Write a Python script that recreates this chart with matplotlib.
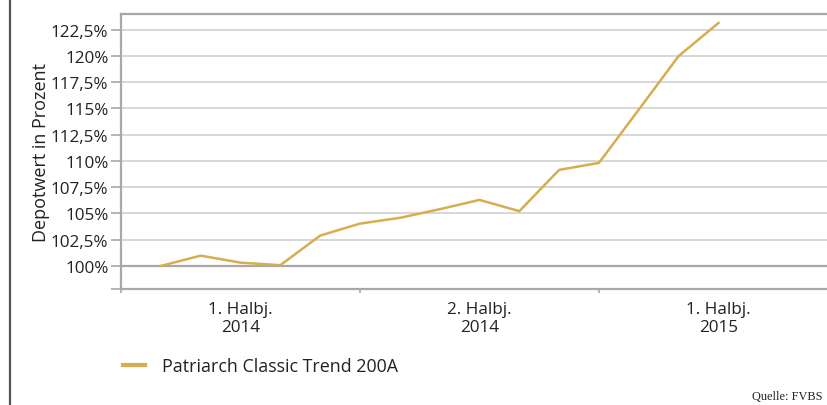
import numpy as np
import matplotlib
matplotlib.use("Agg")
import matplotlib.pyplot as plt
from matplotlib.lines import Line2D

# monthly depot value (end of month), in percent
months = [1, 2, 3, 4, 5, 6, 7, 8, 9, 10, 11, 12, 13, 14, 15]
depot = [100.0, 100.98, 100.31, 100.07, 102.89, 104.03, 104.58, 105.4,
         106.29, 105.22, 109.15, 109.82, 114.9, 120.0, 123.15]
series_name = "Patriarch Classic Trend 200A"

period_labels = ["1. Halbj.\n2014", "2. Halbj.\n2014", "1. Halbj.\n2015"]
period_bounds = [0, 6, 12, 18]
ytick_vals = [100, 102.5, 105, 107.5, 110, 112.5, 115, 117.5, 120, 122.5]

gold = "#d6ae50"
grid_c = "#d4d4d4"
axis_c = "#a8a8a8"
text_c = "#222222"

plt.rcParams["font.family"] = ["Open Sans", "DejaVu Sans"]

fig = plt.figure(figsize=(8.27, 4.06), dpi=100)
ax = fig.add_axes([121 / 827, 116 / 406, 717 / 827, 275.5 / 406])

ax.set_xlim(0, 18)
ax.set_ylim(97.8, 124.05)

# gridlines
for v in ytick_vals:
    if v == 100:
        ax.axhline(v, color=axis_c, lw=1.6, zorder=1)
    else:
        ax.axhline(v, color=grid_c, lw=1.3, zorder=1)

ax.plot(months, depot, color=gold, lw=1.8, zorder=3)

# y axis
ax.set_yticks(ytick_vals + [97.8])
ax.set_yticklabels([("%g%%" % v).replace(".", ",") for v in ytick_vals] + [""],
                   fontsize=12.3, color=text_c)
ax.tick_params(axis="y", length=7, width=1.2, color=axis_c, pad=2)
ax.set_ylabel("Depotwert in Prozent", fontsize=13, color=text_c, labelpad=1)

# x axis: ticks at half-year boundaries, labels in the middle
ax.set_xticks(period_bounds)
ax.set_xticklabels([])
ax.set_xticks([3, 9, 15], minor=True)
ax.set_xticklabels(period_labels, minor=True, fontsize=12.3, color=text_c,
                   linespacing=1.1)
ax.tick_params(axis="x", which="major", length=3, width=1.2, color=axis_c)
ax.tick_params(axis="x", which="minor", length=0, pad=9)

for s in ["left", "bottom", "top"]:
    ax.spines[s].set_color(axis_c)
    ax.spines[s].set_linewidth(1.6)
ax.spines["right"].set_visible(False)

# legend below the chart
handle = Line2D([], [], color=gold, lw=3)
fig.legend([handle], [series_name], loc="center left",
           bbox_to_anchor=(123 / 827, 1 - 367 / 406), frameon=False,
           fontsize=12.9, handlelength=1.2, handletextpad=1.0,
           borderpad=0, borderaxespad=0, labelcolor=text_c)

# frame line at the left edge
fig.add_artist(Line2D([10 / 827, 10 / 827], [0, 1], color="#555555", lw=1.6))

fig.text(822 / 827, 1 - 397 / 406, "Quelle: FVBS", ha="right", va="center",
         fontsize=8.8, family="Liberation Serif", color=text_c)

fig.savefig("out.png", dpi=100)
